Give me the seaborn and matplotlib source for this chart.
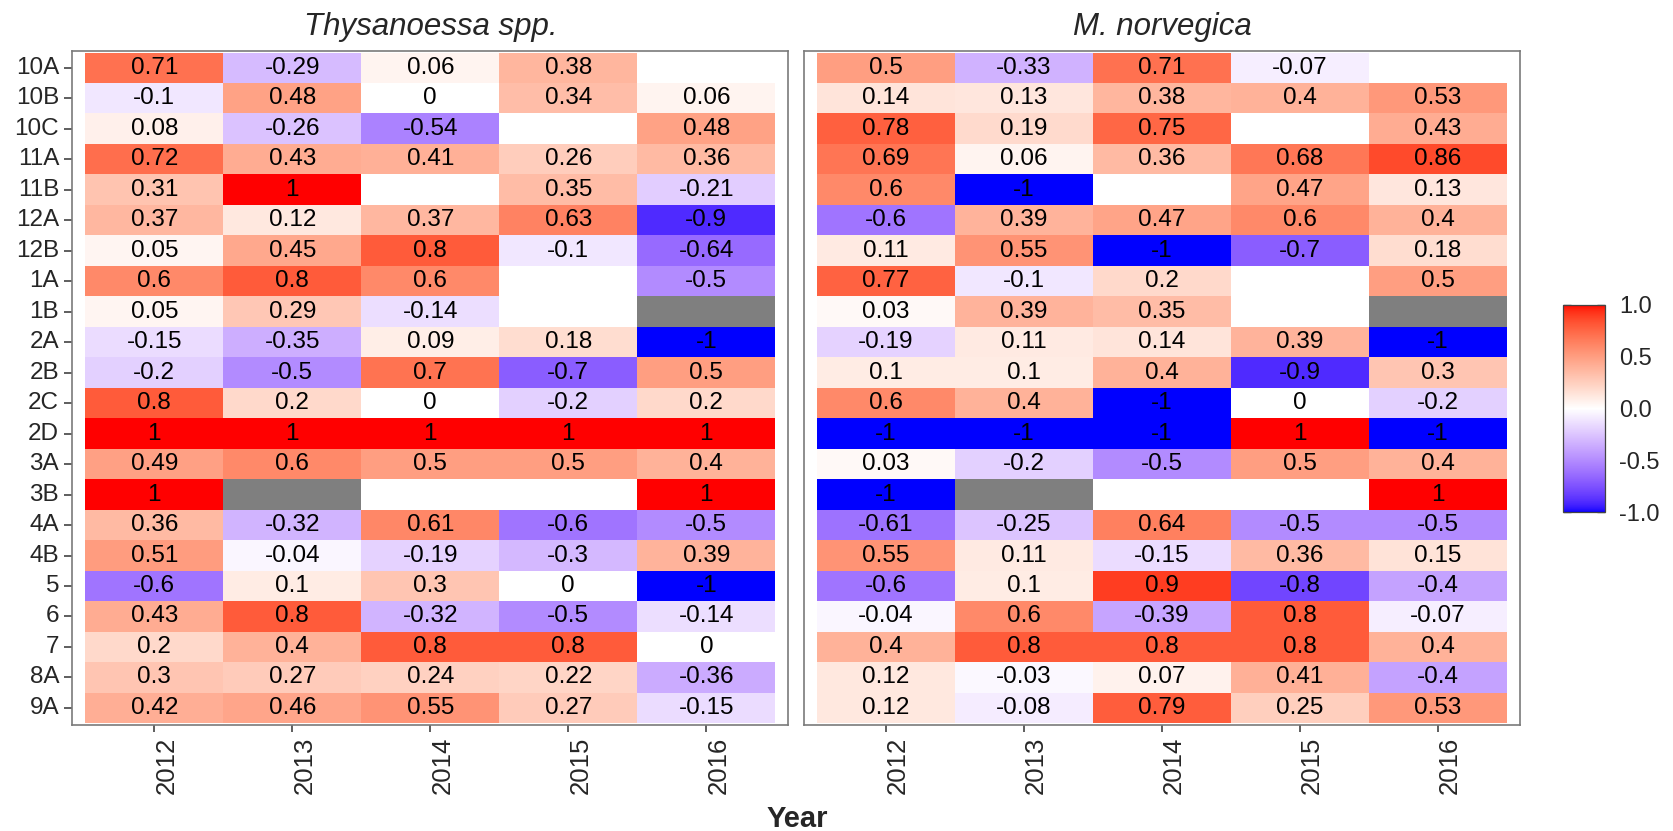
import numpy as np
import pandas as pd
import matplotlib
matplotlib.use("Agg")
import matplotlib.pyplot as plt
from matplotlib.colors import ListedColormap, Normalize
from matplotlib.cm import ScalarMappable
import seaborn as sns

# ---------------------------------------------------------------- data
regions = ["10A", "10B", "10C", "11A", "11B", "12A", "12B", "1A", "1B", "2A",
           "2B", "2C", "2D", "3A", "3B", "4A", "4B", "5", "6", "7", "8A", "9A"]
years = [2012, 2013, 2014, 2015, 2016]
nan = np.nan

# Thysanoessa spp. correlations, one list per year (top to bottom = regions)
thy_2012 = [0.71, -0.1, 0.08, 0.72, 0.31, 0.37, 0.05, 0.6, 0.05, -0.15, -0.2,
            0.8, 1, 0.49, 1, 0.36, 0.51, -0.6, 0.43, 0.2, 0.3, 0.42]
thy_2013 = [-0.29, 0.48, -0.26, 0.43, 1, 0.12, 0.45, 0.8, 0.29, -0.35, -0.5,
            0.2, 1, 0.6, nan, -0.32, -0.04, 0.1, 0.8, 0.4, 0.27, 0.46]
thy_2014 = [0.06, 0, -0.54, 0.41, nan, 0.37, 0.8, 0.6, -0.14, 0.09, 0.7,
            0, 1, 0.5, nan, 0.61, -0.19, 0.3, -0.32, 0.8, 0.24, 0.55]
thy_2015 = [0.38, 0.34, nan, 0.26, 0.35, 0.63, -0.1, nan, nan, 0.18, -0.7,
            -0.2, 1, 0.5, nan, -0.6, -0.3, 0, -0.5, 0.8, 0.22, 0.27]
thy_2016 = [nan, 0.06, 0.48, 0.36, -0.21, -0.9, -0.64, -0.5, nan, -1, 0.5,
            0.2, 1, 0.4, 1, -0.5, 0.39, -1, -0.14, 0, -0.36, -0.15]
thy_na_cells = [("1B", 2016), ("3B", 2013)]

# M. norvegica correlations
mn_2012 = [0.5, 0.14, 0.78, 0.69, 0.6, -0.6, 0.11, 0.77, 0.03, -0.19, 0.1,
           0.6, -1, 0.03, -1, -0.61, 0.55, -0.6, -0.04, 0.4, 0.12, 0.12]
mn_2013 = [-0.33, 0.13, 0.19, 0.06, -1, 0.39, 0.55, -0.1, 0.39, 0.11, 0.1,
           0.4, -1, -0.2, nan, -0.25, 0.11, 0.1, 0.6, 0.8, -0.03, -0.08]
mn_2014 = [0.71, 0.38, 0.75, 0.36, nan, 0.47, -1, 0.2, 0.35, 0.14, 0.4,
           -1, -1, -0.5, nan, 0.64, -0.15, 0.9, -0.39, 0.8, 0.07, 0.79]
mn_2015 = [-0.07, 0.4, nan, 0.68, 0.47, 0.6, -0.7, nan, nan, 0.39, -0.9,
           0, 1, 0.5, nan, -0.5, 0.36, -0.8, 0.8, 0.8, 0.41, 0.25]
mn_2016 = [nan, 0.53, 0.43, 0.86, 0.13, 0.4, 0.18, 0.5, nan, -1, 0.3,
           -0.2, -1, 0.4, 1, -0.5, 0.15, -0.4, -0.07, 0.4, -0.4, 0.53]
mn_na_cells = [("1B", 2016), ("3B", 2013)]

panels = [
    ("Thysanoessa spp.", [thy_2012, thy_2013, thy_2014, thy_2015, thy_2016], thy_na_cells),
    ("M. norvegica", [mn_2012, mn_2013, mn_2014, mn_2015, mn_2016], mn_na_cells),
]


# ------------------------------------------------- diverging Lab palette
def _srgb_to_lab(rgb):
    rgb = np.asarray(rgb, float)
    lin = np.where(rgb <= 0.04045, rgb / 12.92, ((rgb + 0.055) / 1.055) ** 2.4)
    m = np.array([[0.4124564, 0.3575761, 0.1804375],
                  [0.2126729, 0.7151522, 0.0721750],
                  [0.0193339, 0.1191920, 0.9503041]])
    xyz = m @ lin / np.array([0.95047, 1.0, 1.08883])
    f = np.where(xyz > 0.008856, np.cbrt(xyz), 7.787 * xyz + 16 / 116)
    return np.array([116 * f[1] - 16, 500 * (f[0] - f[1]), 200 * (f[1] - f[2])])


def _lab_to_srgb(lab):
    L, a, b = lab
    fy = (L + 16) / 116
    fx = fy + a / 500
    fz = fy - b / 200
    f = np.array([fx, fy, fz])
    xyz = np.where(f ** 3 > 0.008856, f ** 3, (f - 16 / 116) / 7.787)
    xyz = xyz * np.array([0.95047, 1.0, 1.08883])
    minv = np.array([[3.2404542, -1.5371385, -0.4985314],
                     [-0.9692660, 1.8760108, 0.0415560],
                     [0.0556434, -0.2040259, 1.0572252]])
    lin = np.clip(minv @ xyz, 0, 1)
    rgb = np.where(lin <= 0.0031308, 12.92 * lin, 1.055 * lin ** (1 / 2.4) - 0.055)
    return np.clip(rgb, 0, 1)


low, mid, high = _srgb_to_lab([0, 0, 1]), _srgb_to_lab([1, 1, 1]), _srgb_to_lab([1, 0, 0])
ramp = []
for t in np.linspace(-1, 1, 511):
    if t < 0:
        lab = low + (mid - low) * (t + 1)
    else:
        lab = mid + (high - mid) * t
    ramp.append(_lab_to_srgb(lab))
div_cmap = ListedColormap(ramp)

# ---------------------------------------------------------------- style
sns.set_style("white")
plt.rcParams["font.family"] = ["Liberation Sans", "DejaVu Sans"]
plt.rcParams["axes.unicode_minus"] = False

W, H = 1673, 831
fig = plt.figure(figsize=(W / 100, H / 100), dpi=100)

panel_px = [(72.3, 788.3), (804.0, 1520.0)]
top_px, bottom_px = 50.7, 725.0
pad_x, pad_y = 0.094, 0.06
border = "#7a7a7a"
tick_c = "#333333"

for i, (title, cols, na_cells) in enumerate(panels):
    x0, x1 = panel_px[i]
    ax = fig.add_axes([x0 / W, 1 - bottom_px / H, (x1 - x0) / W, (bottom_px - top_px) / H])

    df = pd.DataFrame(np.array(cols).T, index=regions, columns=years)
    labels = df.map(lambda v: "" if pd.isna(v) else f"{v:g}")

    grey = pd.DataFrame(0.0, index=regions, columns=years)
    for reg, yr in na_cells:
        grey.loc[reg, yr] = 1.0
    sns.heatmap(grey, mask=grey == 0, cmap=ListedColormap(["#7f7f7f"]),
                cbar=False, ax=ax, linewidths=0)

    sns.heatmap(df, cmap=div_cmap, vmin=-1, vmax=1, annot=labels.values, fmt="",
                annot_kws={"color": "black", "fontsize": 17.5}, cbar=False,
                ax=ax, linewidths=0)

    ax.set_xlim(-pad_x, len(years) + pad_x)
    ax.set_ylim(len(regions) + pad_y, -pad_y)
    ax.set_xlabel("")
    ax.set_ylabel("")
    for sp in ax.spines.values():
        sp.set_visible(True)
        sp.set_color(border)
        sp.set_linewidth(1.2)

    ax.set_xticks(np.arange(len(years)) + 0.5)
    ax.set_xticklabels([str(y) for y in years], rotation=90, ha="left", va="top",
                       fontsize=18.5)
    ax.tick_params(axis="x", bottom=True, length=5, width=1.1, color=tick_c, pad=3.5)
    if i == 0:
        ax.set_yticks(np.arange(len(regions)) + 0.5)
        ax.set_yticklabels(regions, rotation=0, fontsize=17.5)
        ax.tick_params(axis="y", left=True, length=5.5, width=1.1, color=tick_c, pad=4)
    else:
        ax.tick_params(axis="y", left=False, labelleft=False)

    ax.set_title(title, fontsize=22.5, fontstyle="italic", pad=11)

# colour bar
cax = fig.add_axes([1563.3 / W, 1 - 512.3 / H, 41.7 / W, 207.3 / H])
cb = fig.colorbar(ScalarMappable(norm=Normalize(-1, 1), cmap=div_cmap), cax=cax)
cb.set_ticks([-1, -0.5, 0, 0.5, 1])
cb.set_ticklabels(["-1.0", "-0.5", "0.0", "0.5", "1.0"])
cb.outline.set_edgecolor("#444444")
cb.outline.set_linewidth(0.9)
cax.tick_params(direction="in", left=True, right=True, length=6, width=1.0,
                color="#555555", labelsize=17, pad=10)

fig.text(797 / W, 1 - 827 / H, "Year", ha="center", va="baseline",
         fontsize=21, fontweight="bold")

fig.savefig("out.png", dpi=100)
